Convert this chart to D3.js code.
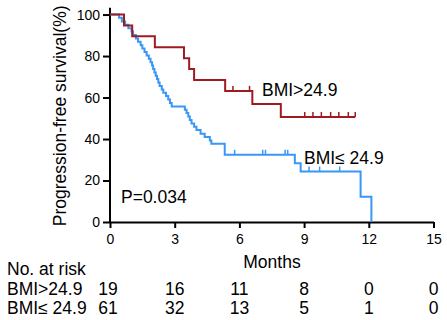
<!DOCTYPE html>
<html><head><meta charset="utf-8">
<script src="https://cdn.jsdelivr.net/npm/d3@7"></script>
<style>body{margin:0;background:#fff;}svg{display:block;font-family:"Liberation Sans",Arial,sans-serif;}</style>
</head><body>
<svg id="c" width="447" height="320"></svg>
<script>
// ---- data ----
const xTicks = [0, 3, 6, 9, 12, 15];
const yTicks = [0, 20, 40, 60, 80, 100];
const highTimes = [0, 0.65, 1.03, 2.08, 3.43, 3.67, 3.9, 5.34, 6.6, 7.92, 11.37];
const highSurv  = [100, 94.7, 89.5, 84.2, 78.9, 73.7, 68.4, 63.2, 56.9, 50.6, 50.6];
const highCensorTimes = [5.7, 6.47, 9.03, 9.41, 9.8, 10.23, 10.61, 11.05, 11.37];
const lowTimes = [0, 0.42, 0.55, 0.7, 0.85, 1.0, 1.07, 1.2, 1.3, 1.42, 1.5, 1.6, 1.7, 1.8, 1.88, 1.95, 2.0, 2.06, 2.12, 2.18, 2.24, 2.3, 2.4, 2.47, 2.6, 2.7, 2.78, 2.86, 3.47, 3.55, 3.63, 3.7, 3.78, 3.9, 4.01, 4.2, 4.39, 4.63, 4.7, 5.32, 8.57, 8.84, 11.62, 12.12];
const lowSurv  = [100, 98.4, 96.7, 95.1, 93.4, 91.8, 90.2, 88.5, 86.9, 85.2, 83.6, 82.0, 80.3, 78.7, 77.0, 75.4, 73.8, 72.1, 70.5, 68.9, 67.2, 65.6, 63.9, 62.3, 60.7, 59.0, 57.4, 55.7, 54.1, 52.5, 50.8, 49.2, 47.5, 45.9, 44.3, 42.6, 41.0, 39.3, 37.7, 32.4, 28.3, 24.3, 12.2, 0];
const lowCensorTimes = [5.78, 7.08, 7.21, 8.12, 8.24, 9.23, 9.72, 10.65];
const groupNames = ["BMI>24.9", "BMI\u2264 24.9"];
const riskTimes = [0, 3, 6, 9, 12, 15];
const riskHigh = [19, 16, 11, 8, 0, 0];
const riskLow  = [61, 32, 13, 5, 1, 0];
const pText = "P=0.034";

const colHigh = "#9e1b20", colLow = "#3897f7";
const svg = d3.select("#c");
const x = d3.scaleLinear().domain([0, 15]).range([110, 433.5]);
const y = d3.scaleLinear().domain([0, 103.3]).range([222, 7.7]);

function survAt(times, surv, t) {
  let v = surv[0];
  for (let i = 0; i < times.length; i++) if (times[i] <= t) v = surv[i];
  return v;
}
function stepPath(times, surv) {
  const pts = times.map((t, i) => [t, surv[i]]);
  return d3.line().x(d => x(d[0])).y(d => y(d[1])).curve(d3.curveStepAfter)(pts);
}

// axes
const yAxis = d3.axisLeft(y).tickValues(yTicks).tickSize(7).tickPadding(3).tickSizeOuter(0);
const gy = svg.append("g").attr("transform", "translate(110,0)").call(yAxis);
gy.select(".domain").attr("stroke-width", 2).attr("d", `M0,${y(0)}V${y(103.3)}`);
gy.selectAll(".tick line").attr("stroke-width", 2);
gy.selectAll(".tick text").attr("font-size", 14).attr("fill", "#000").attr("font-family", "Liberation Sans, Arial");

const xAxis = d3.axisBottom(x).tickValues(xTicks).tickSize(6).tickPadding(6).tickSizeOuter(0);
const gx = svg.append("g").attr("transform", `translate(0,${y(0)})`).call(xAxis);
gx.select(".domain").attr("stroke-width", 2);
gx.selectAll(".tick line").attr("stroke-width", 2);
gx.selectAll(".tick text").attr("font-size", 14).attr("fill", "#000").attr("font-family", "Liberation Sans, Arial");

// curves
svg.append("path").attr("d", stepPath(lowTimes, lowSurv)).attr("fill", "none").attr("stroke", colLow).attr("stroke-width", 2);
svg.append("path").attr("d", stepPath(highTimes, highSurv)).attr("fill", "none").attr("stroke", colHigh).attr("stroke-width", 2);

// censor ticks
function censors(times, tt, ss, col) {
  svg.append("g").selectAll("line").data(times).join("line")
    .attr("x1", d => x(d)).attr("x2", d => x(d))
    .attr("y1", d => y(survAt(tt, ss, d))).attr("y2", d => y(survAt(tt, ss, d)) - 5)
    .attr("stroke", col).attr("stroke-width", 1.5);
}
censors(lowCensorTimes, lowTimes, lowSurv, colLow);
censors(highCensorTimes, highTimes, highSurv, colHigh);

// labels
const fs = 17.5;
svg.append("text").attr("transform", `translate(66,${(y(0)+y(103.3))/2+1}) rotate(-90)`)
  .attr("text-anchor", "middle").attr("font-size", fs).text("Progression-free survival(%)");
svg.append("text").attr("x", 272).attr("y", 268).attr("text-anchor", "middle").attr("font-size", fs).text("Months");
svg.append("text").attr("x", 121).attr("y", 203).attr("font-size", fs).text(pText);
svg.append("text").attr("x", 262).attr("y", 96).attr("font-size", fs).text(groupNames[0]);
svg.append("text").attr("x", 304).attr("y", 164).attr("font-size", fs).text(groupNames[1]);

// risk table
svg.append("text").attr("x", 7).attr("y", 275).attr("font-size", fs).text("No. at risk");
const rows = [[groupNames[0], riskHigh, 295], [groupNames[1], riskLow, 314]];
rows.forEach(([name, vals, yy]) => {
  svg.append("text").attr("x", 7).attr("y", yy).attr("font-size", fs).text(name);
  svg.append("g").selectAll("text").data(vals).join("text")
    .attr("x", (d, i) => x(riskTimes[i]) - (i === 0 ? 2 : 0)).attr("y", yy)
    .attr("text-anchor", "middle").attr("font-size", fs).text(d => d);
});
</script>
</body></html>
